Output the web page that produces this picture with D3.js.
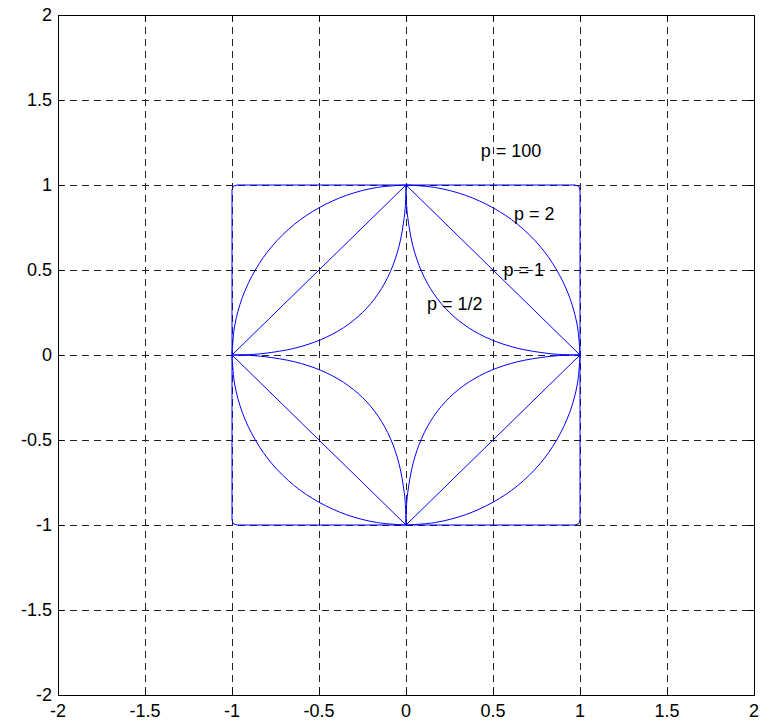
<html>
<head>
<script src="https://d3js.org/d3.v7.min.js"></script>
<style>
  body { margin: 0; background: #fff; }
  text { font-family: "Liberation Sans", Arial, sans-serif; }
</style>
</head>
<body>
<div id="graph"></div>
<script>
// tick values for both axes
var ticks = [-2, -1.5, -1, -0.5, 0, 0.5, 1, 1.5, 2];

// first quadrant of each unit ball (mirrored below)
var pHalf = [[0, 1], [0.0025, 0.9], [0.01, 0.81], [0.04, 0.64], [0.09, 0.49], [0.16, 0.36],
             [0.25, 0.25], [0.36, 0.16], [0.49, 0.09], [0.64, 0.04], [0.81, 0.01], [0.9, 0.0025], [1, 0]];
var pOne = [[0, 1], [1, 0]];
var pTwo = [[0, 1], [0.17, 0.985], [0.34, 0.94], [0.5, 0.866], [0.64, 0.77], [0.77, 0.64],
            [0.866, 0.5], [0.94, 0.34], [0.985, 0.17], [1, 0]];
var pHundred = [[0, 1], [0.97, 1], [0.993, 0.993], [1, 0.97], [1, 0]];

var labels = [
  {text: 'p = 100', x: 0.43, y: 1.2},
  {text: 'p = 2', x: 0.62, y: 0.83},
  {text: 'p = 1', x: 0.56, y: 0.5},
  {text: 'p = 1/2', x: 0.12, y: 0.3}
];

var width = 769, height = 725;
var mLeft = 58, mRight = 754, mTop = 15, mBottom = 695;

var svg = d3.select('#graph').append('svg')
  .attr('width', width).attr('height', height);

var x = d3.scaleLinear().domain([-2, 2]).range([mLeft, mRight]);
var y = d3.scaleLinear().domain([-2, 2]).range([mBottom, mTop]);

function px(v) { return Math.round(v) + 0.5; }

// grid
var grid = svg.append('g');
ticks.slice(1, -1).forEach(function(t) {
  grid.append('line')
    .attr('x1', px(x(t))).attr('x2', px(x(t)))
    .attr('y1', mTop).attr('y2', mBottom)
    .attr('stroke', '#222').attr('stroke-dasharray', '7,5');
  grid.append('line')
    .attr('y1', px(y(t))).attr('y2', px(y(t)))
    .attr('x1', mLeft).attr('x2', mRight)
    .attr('stroke', '#222').attr('stroke-dasharray', '7,5');
});

var line = d3.line()
  .x(function(d) { return x(d[0]); })
  .y(function(d) { return y(d[1]); });

var smooth = d3.line()
  .x(function(d) { return x(d[0]); })
  .y(function(d) { return y(d[1]); })
  .curve(d3.curveCatmullRom);

// draw each quadrant separately so the cusps stay sharp
function drawBall(q, gen) {
  var quads = [[1, 1], [1, -1], [-1, -1], [-1, 1]];
  quads.forEach(function(s) {
    svg.append('path')
      .attr('d', gen(q.map(function(d) { return [d[0] * s[0], d[1] * s[1]]; })))
      .attr('fill', 'none')
      .attr('stroke', '#0000ff')
      .attr('stroke-width', 1);
  });
}

drawBall(pHundred, line);
drawBall(pTwo, smooth);
drawBall(pOne, line);
drawBall(pHalf, smooth);

// axes box
svg.append('rect')
  .attr('x', mLeft + 0.5).attr('y', mTop + 0.5)
  .attr('width', mRight - mLeft).attr('height', mBottom - mTop)
  .attr('fill', 'none').attr('stroke', '#000');

// inward ticks on all sides
var tk = svg.append('g').attr('stroke', '#000');
ticks.forEach(function(t) {
  tk.append('line').attr('x1', px(x(t))).attr('x2', px(x(t))).attr('y1', mBottom).attr('y2', mBottom - 6);
  tk.append('line').attr('x1', px(x(t))).attr('x2', px(x(t))).attr('y1', mTop).attr('y2', mTop + 6);
  tk.append('line').attr('y1', px(y(t))).attr('y2', px(y(t))).attr('x1', mLeft).attr('x2', mLeft + 6);
  tk.append('line').attr('y1', px(y(t))).attr('y2', px(y(t))).attr('x1', mRight).attr('x2', mRight - 6);
});

// tick labels
svg.append('g').selectAll('text').data(ticks).join('text')
  .attr('x', function(d) { return x(d); })
  .attr('y', mBottom + 22)
  .attr('text-anchor', 'middle')
  .attr('font-size', 18)
  .text(function(d) { return d; });

svg.append('g').selectAll('text').data(ticks).join('text')
  .attr('x', mLeft - 6)
  .attr('y', function(d) { return y(d); })
  .attr('dy', '0.35em')
  .attr('text-anchor', 'end')
  .attr('font-size', 18)
  .text(function(d) { return d; });

// curve labels
svg.append('g').selectAll('text').data(labels).join('text')
  .attr('x', function(d) { return x(d.x); })
  .attr('y', function(d) { return y(d.y); })
  .attr('dy', '0.35em')
  .attr('font-size', 18)
  .text(function(d) { return d.text; });
</script>
</body>
</html>
